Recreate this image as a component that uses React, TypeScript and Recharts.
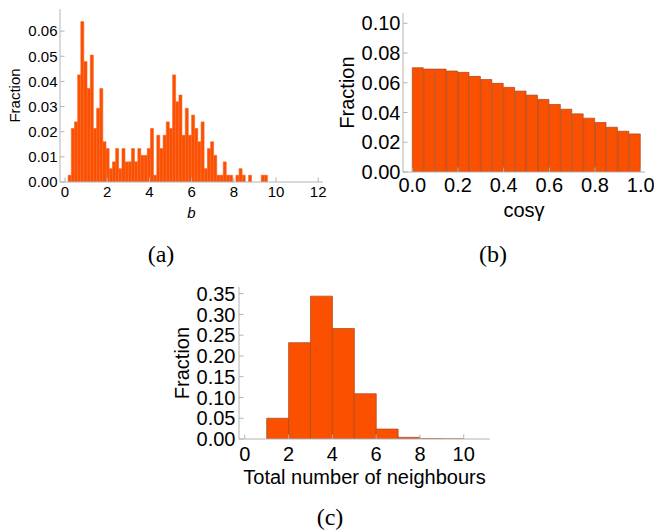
import React from 'react';
import { BarChart, Bar, XAxis, YAxis, Label } from 'recharts';

const FONT = '"Liberation Sans", Arial, Helvetica, sans-serif';
const SERIF = '"Liberation Serif", "DejaVu Serif", serif';
const FILL = '#FA5000';
const FRAME = '#b4b4b4';

// ---------- (a) impact parameter b ----------
const aFirstBin = 0.15;
const aBinWidth = 0.15;
const aFractions = [
  0.0027, 0.0213, 0.0239, 0.0426, 0.0638, 0.0479, 0.0372, 0.0505, 0.0213, 0.0293,
  0.0372, 0.0160, 0.0133, 0.0053, 0.0080, 0.0133, 0.0053, 0.0133, 0.0080, 0.0080,
  0.0133, 0.0080, 0.0133, 0.0106, 0.0106, 0.0133, 0.0213, 0.0027, 0.0186, 0.0133,
  0.0186, 0.0239, 0.0213, 0.0426, 0.0319, 0.0346, 0.0186, 0.0293, 0.0186, 0.0266,
  0.0213, 0.0160, 0.0239, 0.0053, 0.0133, 0.0160, 0.0106, 0.0027, 0.0027, 0.0080,
  0.0027, 0.0027, 0.0, 0.0027, 0.0053, 0.0027, 0.0, 0.0027, 0.0, 0.0,
  0.0, 0.0027, 0.0027,
];
const aXTicks = [0, 2, 4, 6, 8, 10, 12];
const aYTicks = [0, 0.01, 0.02, 0.03, 0.04, 0.05, 0.06];
const aXMinorStep = 0.5;
const aYMinorStep = 0.0025;

// ---------- (b) cos gamma ----------
const bFirstBin = 0;
const bBinWidth = 0.05;
const bFractions = [
  0.0701, 0.0692, 0.0692, 0.0679, 0.0670, 0.0643, 0.0622, 0.0596, 0.0569, 0.0544,
  0.0517, 0.0488, 0.0454, 0.0422, 0.0391, 0.0362, 0.0333, 0.0301, 0.0274, 0.0256,
];
const bXTicks = [0, 0.2, 0.4, 0.6, 0.8, 1.0];
const bYTicks = [0, 0.02, 0.04, 0.06, 0.08, 0.1];
const bXMinorStep = 0.05;
const bYMinorStep = 0.005;

// ---------- (c) total number of neighbours ----------
const cFirstBin = 1;
const cBinWidth = 1;
const cFractions = [0.0500, 0.2320, 0.3440, 0.2660, 0.1090, 0.0240, 0.0040, 0.0008, 0.0003];
const cXTicks = [0, 2, 4, 6, 8, 10];
const cYTicks = [0, 0.05, 0.1, 0.15, 0.2, 0.25, 0.3, 0.35];
const cXMinorStep = 0.5;
const cYMinorStep = 0.01;

function toRows(first: number, width: number, values: number[]) {
  return values.map((y, i) => ({ x: +(first + (i + 0.5) * width).toFixed(4), y }));
}

function minorTicks(domain: [number, number], step: number) {
  const out: number[] = [];
  const start = Math.ceil(domain[0] / step - 1e-9);
  const end = Math.floor(domain[1] / step + 1e-9);
  for (let k = start; k <= end; k++) out.push(+(k * step).toFixed(6));
  return out;
}

type PanelProps = {
  left: number;
  top: number;
  width: number;
  height: number;
  margin: { top: number; right: number; bottom: number; left: number };
  yAxisWidth: number;
  xAxisHeight: number;
  data: { x: number; y: number }[];
  xDomain: [number, number];
  yDomain: [number, number];
  xTicks: number[];
  yTicks: number[];
  xMinorStep: number;
  yMinorStep: number;
  xFmt: (v: number) => string;
  yFmt: (v: number) => string;
  fontSize: number;
  xLabel: string;
  xLabelItalic?: boolean;
  xLabelOffset: number;
  yLabelOffset: number;
  xTickMargin: number;
  yTickMargin: number;
  barStroke: string;
  barStrokeWidth: number;
};

function Panel(p: PanelProps) {
  const tickStyle = { fill: '#000', fontSize: p.fontSize, fontFamily: FONT };
  const xMinor = minorTicks(p.xDomain, p.xMinorStep);
  const yMinor = minorTicks(p.yDomain, p.yMinorStep);
  const minorX = (id: string, orientation: 'top' | 'bottom') => (
    <XAxis
      xAxisId={id}
      orientation={orientation}
      dataKey="x"
      type="number"
      domain={p.xDomain}
      allowDataOverflow
      ticks={xMinor}
      interval={0}
      height={0}
      stroke={FRAME}
      axisLine={false}
      tickSize={-2.5}
      tick={false}
    />
  );
  const minorY = (id: string, orientation: 'left' | 'right') => (
    <YAxis
      yAxisId={id}
      orientation={orientation}
      type="number"
      domain={p.yDomain}
      allowDataOverflow
      ticks={yMinor}
      interval={0}
      width={0}
      stroke={FRAME}
      axisLine={false}
      tickSize={-2.5}
      tick={false}
    />
  );
  return (
    <div style={{ position: 'absolute', left: p.left, top: p.top }}>
      <BarChart
        width={p.width}
        height={p.height}
        data={p.data}
        margin={p.margin}
        barCategoryGap={0}
        barGap={0}
      >
        {minorX('bm', 'bottom')}
        {minorX('tm', 'top')}
        {minorY('lm', 'left')}
        {minorY('rm', 'right')}
        <XAxis
          xAxisId="b"
          dataKey="x"
          type="number"
          domain={p.xDomain}
          allowDataOverflow
          ticks={p.xTicks}
          interval={0}
          tickFormatter={p.xFmt}
          height={p.xAxisHeight}
          stroke={FRAME}
          tickSize={-4.5}
          tickMargin={p.xTickMargin}
          tick={tickStyle}
        >
          <Label
            value={p.xLabel}
            position="insideBottom"
            offset={p.xLabelOffset}
            style={{
              fontSize: p.fontSize,
              fontFamily: FONT,
              fill: '#000',
              fontStyle: p.xLabelItalic ? 'italic' : 'normal',
            }}
          />
        </XAxis>
        <XAxis
          xAxisId="t"
          orientation="top"
          dataKey="x"
          type="number"
          domain={p.xDomain}
          allowDataOverflow
          ticks={p.xTicks}
          interval={0}
          height={0}
          stroke={FRAME}
          tickSize={-4.5}
          tick={false}
        />
        <YAxis
          yAxisId="l"
          type="number"
          domain={p.yDomain}
          allowDataOverflow
          ticks={p.yTicks}
          interval={0}
          tickFormatter={p.yFmt}
          width={p.yAxisWidth}
          stroke={FRAME}
          tickSize={-4.5}
          tickMargin={p.yTickMargin}
          tick={tickStyle}
        >
          <Label
            value="Fraction"
            angle={-90}
            position="insideLeft"
            offset={p.yLabelOffset}
            style={{ fontSize: p.fontSize, fontFamily: FONT, fill: '#000', textAnchor: 'middle' }}
          />
        </YAxis>
        <YAxis
          yAxisId="r"
          orientation="right"
          type="number"
          domain={p.yDomain}
          allowDataOverflow
          ticks={p.yTicks}
          interval={0}
          width={0}
          stroke={FRAME}
          tickSize={-4.5}
          tick={false}
        />
        <Bar
          xAxisId="b"
          yAxisId="l"
          dataKey="y"
          fill={FILL}
          stroke={p.barStroke}
          strokeWidth={p.barStrokeWidth}
          isAnimationActive={false}
        />
      </BarChart>
    </div>
  );
}

export default function App() {
  const aData = toRows(aFirstBin, aBinWidth, aFractions);
  const bData = toRows(bFirstBin, bBinWidth, bFractions);
  const cData = toRows(cFirstBin, cBinWidth, cFractions);
  return (
    <div
      style={{
        position: 'absolute',
        left: 0,
        top: 0,
        width: 654,
        height: 532,
        background: '#fff',
        overflow: 'hidden',
      }}
    >
      <svg width={654} height={532} style={{ position: 'absolute', left: 0, top: 0 }}>
        <text x={161} y={262} textAnchor="middle" fontFamily={SERIF} fontSize={24} fill="#000">
          (a)
        </text>
        <text x={493} y={262} textAnchor="middle" fontFamily={SERIF} fontSize={24} fill="#000">
          (b)
        </text>
        <text x={330} y={525} textAnchor="middle" fontFamily={SERIF} fontSize={24} fill="#000">
          (c)
        </text>
      </svg>

      <Panel
        left={0}
        top={0}
        width={330}
        height={225}
        margin={{ top: 9, right: 7, bottom: 0, left: 0 }}
        yAxisWidth={60}
        xAxisHeight={43}
        data={aData}
        xDomain={[-0.237, 12.227]}
        yDomain={[0, 0.0688]}
        xTicks={aXTicks}
        yTicks={aYTicks}
        xMinorStep={aXMinorStep}
        yMinorStep={aYMinorStep}
        xFmt={(v) => String(v)}
        yFmt={(v) => v.toFixed(2)}
        fontSize={15}
        xLabel="b"
        xLabelItalic
        xLabelOffset={7}
        yLabelOffset={15}
        xTickMargin={9}
        yTickMargin={7}
        barStroke="#FB6020"
        barStrokeWidth={0.6}
      />

      <Panel
        left={330}
        top={0}
        width={324}
        height={225}
        margin={{ top: 13, right: 9, bottom: 0, left: 0 }}
        yAxisWidth={73}
        xAxisHeight={53}
        data={bData}
        xDomain={[-0.0407, 1.0188]}
        yDomain={[0, 0.1069]}
        xTicks={bXTicks}
        yTicks={bYTicks}
        xMinorStep={bXMinorStep}
        yMinorStep={bYMinorStep}
        xFmt={(v) => v.toFixed(1)}
        yFmt={(v) => v.toFixed(2)}
        fontSize={20}
        xLabel="cosγ"
        xLabelOffset={8}
        yLabelOffset={17}
        xTickMargin={10}
        yTickMargin={7}
        barStroke="#A8481E"
        barStrokeWidth={0.7}
      />

      <Panel
        left={160}
        top={270}
        width={340}
        height={225}
        margin={{ top: 17, right: 10, bottom: 0, left: 0 }}
        yAxisWidth={79}
        xAxisHeight={56}
        data={cData}
        xDomain={[-0.265, 11.2]}
        yDomain={[0, 0.366]}
        xTicks={cXTicks}
        yTicks={cYTicks}
        xMinorStep={cXMinorStep}
        yMinorStep={cYMinorStep}
        xFmt={(v) => String(v)}
        yFmt={(v) => v.toFixed(2)}
        fontSize={20}
        xLabel="Total number of neighbours"
        xLabelOffset={11}
        yLabelOffset={22}
        xTickMargin={12}
        yTickMargin={8}
        barStroke="#A8481E"
        barStrokeWidth={0.7}
      />
    </div>
  );
}
